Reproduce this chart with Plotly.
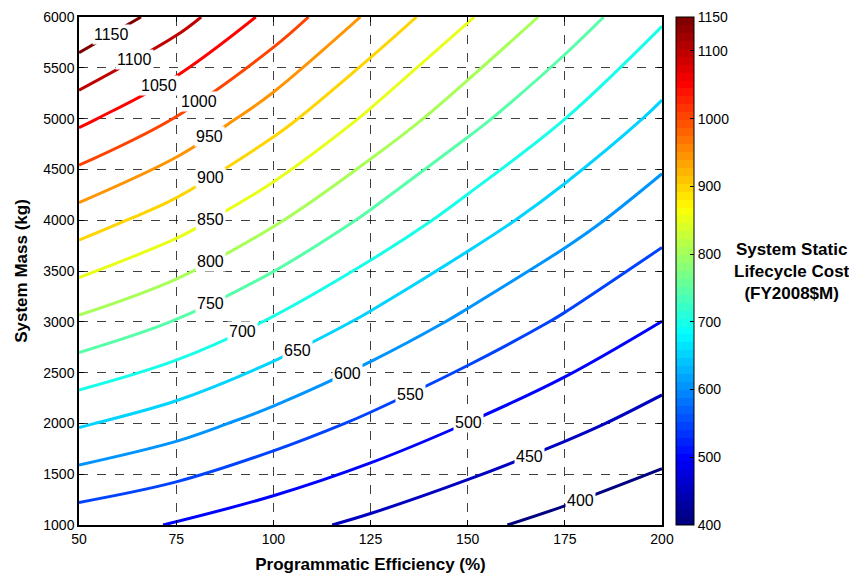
import plotly.graph_objects as go

# Programmatic efficiency (%) columns and system mass (kg) rows of the cost grid
efficiency = [50, 75, 100, 125, 150, 175, 200]
mass = [1000, 2000, 3000, 4000, 5000, 6000]

# System static lifecycle cost (FY2008$M), read at each grid intersection
cost_m1000 = [519.9, 496.9, 467.4, 438.7, 410.3, 385.1, 361.8]
cost_m2000 = [655.5, 622.1, 580.7, 539.0, 499.3, 463.9, 430.7]
cost_m3000 = [791.0, 747.3, 694.0, 639.3, 588.3, 542.7, 499.6]
cost_m4000 = [926.6, 872.5, 807.3, 739.6, 677.3, 621.5, 568.5]
cost_m5000 = [1062.2, 997.7, 920.6, 839.9, 766.3, 700.3, 637.4]
cost_m6000 = [1197.8, 1122.9, 1033.9, 940.2, 855.3, 779.1, 706.3]

# contour levels that carry an inline label, and the efficiency where each label sits
label_levels = [1150, 1100, 1050, 1000, 950, 900, 850, 800, 750, 700, 650, 600, 550, 500, 450, 400]
label_efficiency = [58.4, 64.4, 70.6, 80.9, 83.7, 83.9, 83.9, 83.9, 83.9, 92.1, 106.1, 119.0, 135.2, 150.1, 166.0, 179.0]

x_ticks = [50, 75, 100, 125, 150, 175, 200]
y_ticks = [1000, 1500, 2000, 2500, 3000, 3500, 4000, 4500, 5000, 5500, 6000]
cbar_ticks = [400, 500, 600, 700, 800, 900, 1000, 1100, 1150]

z = [cost_m1000, cost_m2000, cost_m3000, cost_m4000, cost_m5000, cost_m6000]


def jet(t):
    def c(v):
        return max(0.0, min(1.0, v))
    r = c(1.5 - abs(4 * t - 3))
    g = c(1.5 - abs(4 * t - 2))
    b = c(1.5 - abs(4 * t - 1))
    return f"rgb({int(round(r*255))},{int(round(g*255))},{int(round(b*255))})"


N = 64
stepped = []
for i in range(N):
    col = jet(i / (N - 1))
    stepped.append([i / N, col])
    stepped.append([(i + 1) / N, col])


def mass_on_level(e, level):
    """Locate the mass where the gridded cost equals `level` at efficiency e."""
    j = 0
    while j < len(efficiency) - 2 and e > efficiency[j + 1]:
        j += 1
    t = (e - efficiency[j]) / (efficiency[j + 1] - efficiency[j])
    col = [row[j] * (1 - t) + row[j + 1] * t for row in z]
    for k in range(len(mass) - 1):
        lo, hi = col[k], col[k + 1]
        if (lo - level) * (hi - level) <= 0 and hi != lo:
            f = (level - lo) / (hi - lo)
            return mass[k] + f * (mass[k + 1] - mass[k])
    return None


FONT = "Liberation Sans, Arial, Helvetica, sans-serif"

fig = go.Figure()
fig.add_trace(go.Contour(
    x=efficiency, y=mass, z=z,
    zmin=400, zmax=1150, colorscale=stepped, showscale=False,
    contours=dict(start=400, end=1150, size=50, coloring="lines",
                  showlabels=False),
    line=dict(width=3, smoothing=1.0),
    hoverinfo="skip",
))

fig.add_trace(go.Scatter(
    x=[None], y=[None], mode="markers", hoverinfo="skip", showlegend=False,
    marker=dict(color=[400], cmin=400, cmax=1150, colorscale=stepped,
                showscale=True,
                colorbar=dict(x=1.024, xanchor="left", y=0.5, yanchor="middle",
                              len=1.0, lenmode="fraction", thickness=18,
                              outlinecolor="black", outlinewidth=1,
                              tickvals=cbar_ticks, ticks="inside", ticklen=4,
                              tickcolor="black", ticklabeloverflow="allow",
                              tickfont=dict(family=FONT, size=14, color="black"),
                              xpad=0, ypad=0)),
))

for lvl, e in zip(label_levels, label_efficiency):
    m = mass_on_level(e, lvl)
    if m is None:
        continue
    fig.add_annotation(x=e, y=m, xref="x", yref="y", text=str(lvl),
                       showarrow=False, bgcolor="white", borderpad=1,
                       font=dict(family=FONT, size=16, color="black"),
                       xanchor="center", yanchor="middle")

fig.add_annotation(x=1.2236, y=0.5, xref="paper", yref="paper",
                   text="<b>System Static<br>Lifecycle Cost<br>(FY2008$M)</b>",
                   showarrow=False, font=dict(family=FONT, size=17, color="black"),
                   xanchor="center", yanchor="middle", align="center")

axis_common = dict(showgrid=True, gridcolor="rgba(0,0,0,0.75)", gridwidth=1,
                   griddash="dash", showline=True, linecolor="black", linewidth=1.5,
                   mirror="allticks", ticks="inside", ticklen=5, tickcolor="black",
                   zeroline=False, automargin=False, ticklabeloverflow="allow",
                   tickfont=dict(family=FONT, size=14, color="black"))

fig.update_xaxes(range=[50, 200], tickvals=x_ticks,
                 title=dict(text="<b>Programmatic Efficiency (%)</b>",
                            font=dict(family=FONT, size=17, color="black"),
                            standoff=13),
                 **axis_common)
fig.update_yaxes(range=[1000, 6000], tickvals=y_ticks,
                 title=dict(text="<b>System Mass (kg)</b>",
                            font=dict(family=FONT, size=17, color="black"),
                            standoff=11),
                 **axis_common)

# the page body adds an 8 px offset, so the figure is 8 px smaller than the window
fig.update_layout(width=849, height=570,
                  margin=dict(l=71, r=195, t=9, b=53, autoexpand=False),
                  paper_bgcolor="white", plot_bgcolor="white",
                  showlegend=False)

fig.write_html("out.html")
